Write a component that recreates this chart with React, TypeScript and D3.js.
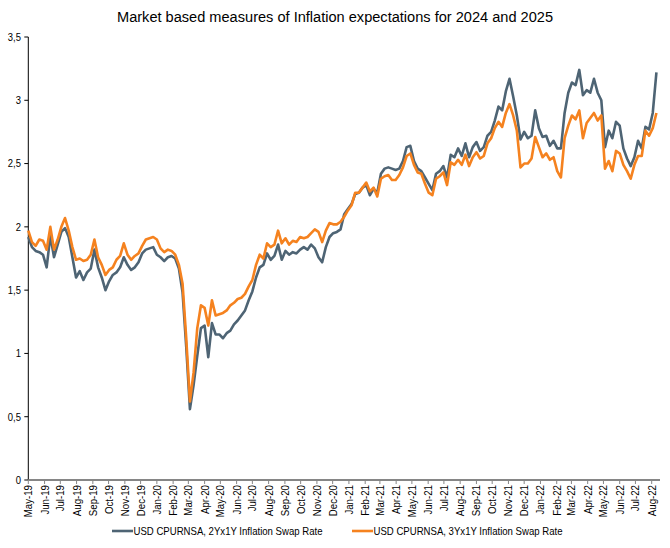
import React from "react";
import * as d3 from "d3";

const TITLE = "Market based measures of Inflation expectations for 2024 and 2025";
const SERIES_NAMES = ["USD CPURNSA, 2Yx1Y Inflation Swap Rate", "USD CPURNSA, 3Yx1Y Inflation Swap Rate"];
const START_DATE = "2019-05-01";
const Y_TICKS = [0, 0.5, 1, 1.5, 2, 2.5, 3, 3.5];

// weekly observations from START_DATE
const SWAP_2Y1Y = [
  1.92, 1.84, 1.81, 1.80, 1.78, 1.68, 1.93, 1.76, 1.86, 1.96,
  1.99, 1.92, 1.76, 1.60, 1.65, 1.58, 1.64, 1.67, 1.82, 1.68,
  1.60, 1.50, 1.57, 1.62, 1.64, 1.68, 1.76, 1.70, 1.66, 1.68,
  1.72, 1.79, 1.82, 1.83, 1.84, 1.78, 1.76, 1.73, 1.76, 1.77,
  1.75, 1.67, 1.48, 1.05, 0.56, 0.75, 0.98, 1.20, 1.22, 0.97,
  1.24, 1.15, 1.15, 1.12, 1.16, 1.18, 1.23, 1.26, 1.30, 1.34,
  1.42, 1.49, 1.60, 1.68, 1.70, 1.79, 1.74, 1.77, 1.86, 1.74,
  1.81, 1.78, 1.80, 1.79, 1.82, 1.84, 1.82, 1.86, 1.83, 1.76,
  1.72, 1.84, 1.92, 1.95, 1.96, 1.98, 2.10, 2.14, 2.18, 2.26,
  2.27, 2.31, 2.33, 2.25, 2.30, 2.27, 2.42, 2.46, 2.47, 2.46,
  2.45, 2.46, 2.52, 2.63, 2.64, 2.52, 2.46, 2.44, 2.39, 2.34,
  2.29, 2.42, 2.44, 2.48, 2.39, 2.57, 2.55, 2.62, 2.56, 2.66,
  2.55, 2.63, 2.67, 2.60, 2.63, 2.72, 2.75, 2.84, 2.95, 2.92,
  3.07, 3.17, 3.03, 2.88, 2.69, 2.75, 2.70, 2.72, 2.92, 2.78,
  2.71, 2.72, 2.64, 2.68, 2.62, 2.62, 2.90, 3.06, 3.14, 3.12,
  3.24, 3.04, 3.08, 3.06, 3.17, 3.06, 3.00, 2.63, 2.76, 2.70,
  2.83, 2.80, 2.62, 2.54, 2.48, 2.55, 2.68, 2.62, 2.79, 2.77,
  2.90, 3.22,
];
const SWAP_3Y1Y = [
  1.97, 1.88, 1.85, 1.90, 1.89, 1.82, 2.00, 1.82, 1.90, 2.00,
  2.07, 1.97, 1.84, 1.74, 1.75, 1.73, 1.74, 1.78, 1.90, 1.76,
  1.70, 1.62, 1.66, 1.68, 1.74, 1.77, 1.87, 1.78, 1.74, 1.77,
  1.79, 1.85, 1.90, 1.91, 1.92, 1.90, 1.83, 1.80, 1.82, 1.81,
  1.78, 1.70, 1.55, 1.12, 0.62, 0.85, 1.20, 1.38, 1.36, 1.22,
  1.42, 1.30, 1.31, 1.32, 1.34, 1.38, 1.40, 1.43, 1.44, 1.47,
  1.53, 1.58, 1.70, 1.78, 1.75, 1.87, 1.84, 1.86, 1.97, 1.87,
  1.91, 1.86, 1.89, 1.88, 1.92, 1.91, 1.92, 1.95, 1.98, 1.96,
  1.88, 1.97, 2.03, 2.02, 2.02, 2.04, 2.08, 2.13, 2.17, 2.27,
  2.27, 2.31, 2.35, 2.28, 2.31, 2.24, 2.38, 2.40, 2.41, 2.37,
  2.37, 2.41, 2.47, 2.56, 2.58, 2.49, 2.43, 2.42, 2.34, 2.27,
  2.25, 2.38, 2.40, 2.43, 2.33, 2.51, 2.49, 2.53, 2.49, 2.57,
  2.48, 2.55, 2.59, 2.54, 2.56, 2.66, 2.70, 2.78, 2.83, 2.79,
  2.90, 2.97, 2.88, 2.76, 2.47, 2.50, 2.50, 2.54, 2.71, 2.63,
  2.55, 2.58, 2.53, 2.55, 2.44, 2.39, 2.70, 2.80, 2.88, 2.85,
  2.92, 2.70, 2.82, 2.86, 2.90, 2.84, 2.88, 2.46, 2.52, 2.44,
  2.60, 2.58, 2.49, 2.44, 2.38, 2.49, 2.56, 2.56, 2.76, 2.72,
  2.78, 2.90,
];

const COLORS = ["#4e6474", "#f5821f"];
const FONT = "'Liberation Sans', Arial, sans-serif";

export default function App() {
  const W = 670, H = 548;
  const left = 28.3, top = 37, bottom = 480;
  const start = d3.timeParse("%Y-%m-%d")(START_DATE) as Date;
  const x = d3.scaleTime()
    .domain([start, new Date(2022, 7, 1)])
    .range([left, 651.7]);
  const y = d3.scaleLinear().domain([0, 3.5]).range([bottom, top]);
  const dates = SWAP_2Y1Y.map((_, i) => d3.timeDay.offset(start, 7 * i));
  const months = d3.timeMonth.range(start, new Date(2022, 8, 1));
  const fmtMonth = d3.timeFormat("%b-%y");
  const fmtY = (v: number) => String(v).replace(".", ",");
  const line = d3.line<number>()
    .x((_, i) => x(dates[i]))
    .y((v) => y(v));
  const series = [SWAP_2Y1Y, SWAP_3Y1Y];

  return (
    <svg width={W} height={H} style={{ position: "absolute", left: 0, top: 0, background: "#fff" }} fontFamily={FONT}>
      <text x={117} y={22} fontSize={15.5} fill="#000" textLength={436} lengthAdjust="spacingAndGlyphs">{TITLE}</text>
      {/* y axis */}
      <line x1={left} x2={left} y1={top} y2={bottom} stroke="#000" strokeWidth={1} />
      {Y_TICKS.map((t) => (
        <g key={t}>
          <line x1={left - 4} x2={left} y1={y(t)} y2={y(t)} stroke="#000" />
          <text transform={`translate(21,${y(t)}) scale(0.86,1)`} dy="0.35em" textAnchor="end" fontSize={11} fill="#000">{fmtY(t)}</text>
        </g>
      ))}
      {/* series */}
      {series.map((s, k) => (
        <path key={k} d={line(s) || ""} fill="none" stroke={COLORS[k]} strokeWidth={2.6} strokeLinejoin="round" />
      ))}
      {/* x axis */}
      <line x1={left} x2={660} y1={bottom} y2={bottom} stroke="#868686" strokeWidth={2} />
      {months.map((m) => (
        <g key={m.getTime()}>
          <line x1={x(m)} x2={x(m)} y1={bottom} y2={bottom + 4} stroke="#868686" />
          <text transform={`translate(${x(m) + 4},${bottom + 5}) rotate(-90) scale(0.88,1)`} textAnchor="end" fontSize={11} fill="#000">{fmtMonth(m)}</text>
        </g>
      ))}
      {/* legend */}
      {SERIES_NAMES.map((n, k) => {
        const lx = k === 0 ? 112 : 352;
        return (
          <g key={n}>
            <line x1={lx} x2={lx + 21} y1={531} y2={531} stroke={COLORS[k]} strokeWidth={2.6} />
            <text x={lx + 21.5} y={535} fontSize={11.5} fill="#000" textLength={189} lengthAdjust="spacingAndGlyphs">{n}</text>
          </g>
        );
      })}
    </svg>
  );
}
